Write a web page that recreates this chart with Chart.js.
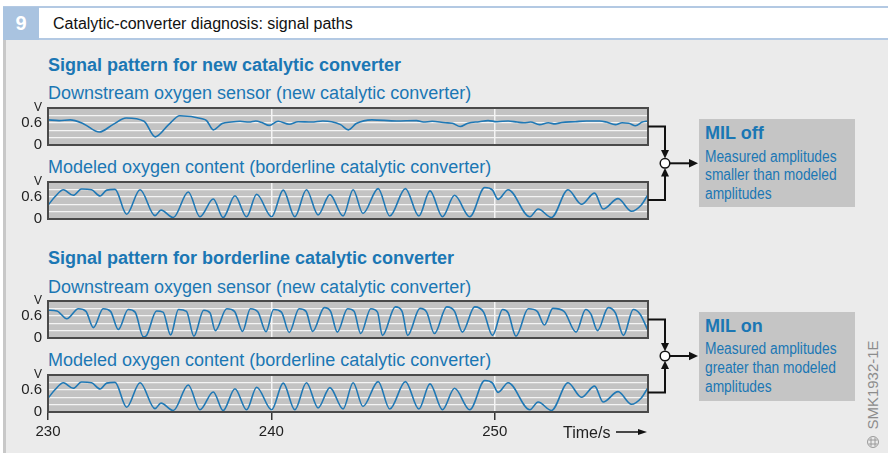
<!DOCTYPE html>
<html>
<head>
<meta charset="utf-8">
<script src="https://cdn.jsdelivr.net/npm/chart.js@4.4.1/dist/chart.umd.min.js"></script>
<style>
  body { margin: 0; width: 888px; height: 453px; position: relative; overflow: hidden; background: #fff;
         font-family: "Liberation Sans", Arial, sans-serif; }
  .abs { position: absolute; }
  .head { color: #1b77b4; font-weight: bold; font-size: 18px; line-height: 20px; white-space: nowrap; }
  .sub { color: #1b77b4; font-size: 18px; line-height: 20px; white-space: nowrap; }
  .box { background: #c5c5c5; }
  .mil { color: #1b77b4; font-weight: bold; font-size: 18px; line-height: 20px; white-space: nowrap; }
  .note { color: #1b77b4; font-size: 16px; line-height: 18px; white-space: nowrap;
          transform: scaleX(0.86); transform-origin: 0 0; }
</style>
</head>
<body>

<!-- header -->
<div class="abs" style="left:3px;top:6px;width:885px;height:30px;background:#fff;border-top:2px solid #b3c9e3;border-bottom:2px solid #b3c9e3"></div>
<div class="abs" style="left:3px;top:7px;width:36px;height:33px;background:#a9c3e0;color:#fff;font-weight:bold;font-size:20px;line-height:33px;text-align:center">9</div>
<div class="abs" style="left:53px;top:14px;font-size:16px;line-height:20px;color:#111">Catalytic-converter diagnosis: signal paths</div>

<!-- body panel -->
<div class="abs" style="left:3px;top:40px;width:885px;height:413px;background:#ebebeb;border-left:3px solid #c8c8c8;box-sizing:border-box"></div>

<div class="abs head" style="left:48px;top:55px">Signal pattern for new catalytic converter</div>
<div class="abs sub" style="left:48px;top:83px">Downstream oxygen sensor (new catalytic converter)</div>
<div class="abs sub" style="left:48px;top:157px">Modeled oxygen content (borderline catalytic converter)</div>
<div class="abs head" style="left:48px;top:248px">Signal pattern for borderline catalytic converter</div>
<div class="abs sub" style="left:48px;top:277px">Downstream oxygen sensor (new catalytic converter)</div>
<div class="abs sub" style="left:48px;top:350px">Modeled oxygen content (borderline catalytic converter)</div>

<div class="abs" style="left:0;top:98px;width:660px;height:57px"><canvas id="c1"></canvas></div>
<div class="abs" style="left:0;top:172px;width:660px;height:57px"><canvas id="c2"></canvas></div>
<div class="abs" style="left:0;top:291px;width:660px;height:57px"><canvas id="c3"></canvas></div>
<div class="abs" style="left:0;top:365px;width:660px;height:77px"><canvas id="c4"></canvas></div>

<div class="abs" style="left:563px;top:423px;font-size:16px;line-height:20px;color:#222">Time/s</div>

<!-- result boxes -->
<div class="abs box" style="left:699px;top:119px;width:156px;height:88px"></div>
<div class="abs mil" style="left:705px;top:123px">MIL off</div>
<div class="abs note" style="left:705px;top:148px">Measured amplitudes</div>
<div class="abs note" style="left:705px;top:166px">smaller than modeled</div>
<div class="abs note" style="left:705px;top:185px">amplitudes</div>

<div class="abs box" style="left:699px;top:312px;width:156px;height:89px"></div>
<div class="abs mil" style="left:705px;top:316px">MIL on</div>
<div class="abs note" style="left:705px;top:340px">Measured amplitudes</div>
<div class="abs note" style="left:705px;top:359px">greater than modeled</div>
<div class="abs note" style="left:705px;top:378px">amplitudes</div>

<div class="abs" style="left:823px;top:376px;width:100px;text-align:center;transform:rotate(-90deg);font-size:15px;line-height:18px;color:#8c8c8c;white-space:nowrap">SMK1932-1E</div>

<svg class="abs" style="left:0;top:0" width="888" height="453">
  <g stroke="#111" stroke-width="2" fill="none">
    <path d="M648 126.5 H665 V152"/>
    <path d="M648 200 H665 V174"/>
    <path d="M670 163.3 H690"/>
    <path d="M648 319.5 H665 V345"/>
    <path d="M648 392.5 H665 V367"/>
    <path d="M670 356 H690"/>
    <path d="M616 432 H640" stroke-width="1.5"/>
  </g>
  <g fill="#111">
    <polygon points="661,150 669,150 665,158.5"/>
    <polygon points="661,176.5 669,176.5 665,168"/>
    <polygon points="689,159 689,167.6 698,163.3"/>
    <polygon points="661,343 669,343 665,351.2"/>
    <polygon points="661,369 669,369 665,360.8"/>
    <polygon points="689,351.7 689,360.3 698,356"/>
    <polygon points="638,429 638,435 647,432"/>
  </g>
  <circle cx="665" cy="163.3" r="4.8" fill="#fff" stroke="#111" stroke-width="1.5"/>
  <circle cx="665" cy="356" r="4.8" fill="#fff" stroke="#111" stroke-width="1.5"/>
  <g stroke="#9a9a9a" stroke-width="1" fill="none">
    <circle cx="873" cy="442" r="5.5"/>
    <path d="M868.5 440 H877.5 M868.5 444 H877.5 M871 437.5 V446.5 M875 437.5 V446.5"/>
  </g>
</svg>

<script>
// time axis (s) and tick labels
const timeMin = 230;
const timeMax = 256.86;
const timeTicks = [230, 240, 250];
const voltTicks = [0, 0.2, 0.4, 0.6, 0.8, 1];
const voltLabels = { 0: "0", 0.6: "0.6", 1: "V" };

// downstream sensor, new catalytic converter
const newSensorTime = [230.0, 230.5, 231.0, 231.6, 232.3, 232.9, 233.5, 234.3, 234.8, 235.4, 235.9, 236.9, 237.1, 237.4,
  237.8, 238.2, 238.6, 239.0, 239.3, 239.6, 239.9, 240.3, 240.8, 241.2, 241.8, 242.3, 242.7, 243.1, 243.45, 243.8,
  244.5, 245.6, 246.5, 246.8, 247.2, 247.8, 248.1, 248.45, 248.8, 249.3, 249.7, 250.1, 250.6, 251.0, 251.3, 251.6,
  252.0, 252.4, 252.7, 253.0, 253.6, 254.1, 254.7, 255.0, 255.4, 255.7, 256.0, 256.3, 256.6, 256.86];
const newSensorVolt = [0.68, 0.66, 0.68, 0.57, 0.35, 0.55, 0.73, 0.64, 0.22, 0.55, 0.79, 0.71, 0.66, 0.41,
  0.58, 0.62, 0.64, 0.62, 0.65, 0.60, 0.53, 0.64, 0.56, 0.63, 0.62, 0.65, 0.63, 0.55, 0.41, 0.58,
  0.68, 0.65, 0.66, 0.62, 0.64, 0.60, 0.59, 0.50, 0.59, 0.63, 0.66, 0.63, 0.65, 0.62, 0.60, 0.62,
  0.55, 0.60, 0.57, 0.61, 0.63, 0.65, 0.65, 0.62, 0.55, 0.60, 0.59, 0.52, 0.62, 0.65];

// modeled oxygen content, borderline catalytic converter (same trace in both panels)
const modelTime = [230.0, 230.31, 230.69, 231.13, 231.5, 231.95, 232.33, 232.63, 233.0, 233.52, 234.12, 234.79, 235.06,
  235.61, 236.28, 236.8, 237.4, 237.84, 238.37, 238.89, 239.34, 240.01, 240.53, 241.05, 241.57, 242.09, 242.62,
  243.21, 243.66, 244.1, 244.78, 245.3, 246.0, 246.6, 247.1, 247.66, 248.2, 248.88, 249.55, 249.9, 250.15, 250.6,
  251.57, 251.94, 252.54, 253.28, 253.88, 254.47, 254.85, 255.52, 256.12, 256.56, 256.86];
const modelVolt = [0.37, 0.60, 0.79, 0.64, 0.81, 0.79, 0.62, 0.78, 0.80, 0.13, 0.79, 0.09, 0.24,
  0.04, 0.73, 0.06, 0.54, 0.04, 0.63, 0.06, 0.67, 0.06, 0.78, 0.06, 0.79, 0.11, 0.66,
  0.08, 0.79, 0.15, 0.82, 0.08, 0.82, 0.08, 0.76, 0.06, 0.64, 0.06, 0.85, 0.78, 0.53, 0.79,
  0.06, 0.27, 0.04, 0.79, 0.40, 0.70, 0.27, 0.55, 0.21, 0.38, 0.66];

// downstream sensor, borderline catalytic converter
const borderSensorTime = [230.0, 230.4, 230.84, 231.36, 231.7, 232.03, 232.47, 232.8, 233.15, 233.59, 233.9, 234.27, 234.4,
  234.86, 235.15, 235.49, 235.84, 236.2, 236.53, 236.97, 237.25, 237.49, 238.0, 238.35, 238.71, 239.06, 239.4,
  239.76, 240.1, 240.45, 240.8, 241.24, 241.55, 241.85, 242.37, 242.65, 242.95, 243.41, 243.7, 244.0, 244.45,
  244.75, 244.97, 245.55, 245.85, 246.1, 246.65, 246.95, 247.3, 247.85, 248.2, 248.55, 249.1, 249.5, 249.9,
  250.35, 250.6, 250.95, 251.5, 251.9, 252.22, 252.6, 253.1, 253.64, 254.07, 254.3, 254.6, 255.08, 255.4,
  255.76, 256.2, 256.5, 256.86];
const borderSensorVolt = [0.75, 0.73, 0.52, 0.79, 0.72, 0.28, 0.79, 0.72, 0.23, 0.77, 0.70, 0.03, 0.06,
  0.73, 0.70, 0.08, 0.77, 0.72, 0.05, 0.75, 0.68, 0.20, 0.79, 0.72, 0.18, 0.79, 0.70,
  0.17, 0.77, 0.70, 0.15, 0.79, 0.72, 0.18, 0.82, 0.72, 0.16, 0.79, 0.72, 0.12, 0.79,
  0.70, 0.07, 0.84, 0.72, 0.07, 0.80, 0.70, 0.12, 0.84, 0.72, 0.16, 0.84, 0.70, 0.07,
  0.77, 0.68, 0.05, 0.79, 0.72, 0.35, 0.80, 0.72, 0.16, 0.77, 0.65, 0.20, 0.82, 0.68,
  0.07, 0.77, 0.65, 0.20];

const lineColor = "#1f78b5";
const clear = "rgba(0,0,0,0)";

const framePlugin = {
  id: "frame",
  beforeDraw(chart) {
    const { ctx, chartArea: a } = chart;
    ctx.save();
    ctx.fillStyle = "#c3c3c3";
    ctx.fillRect(a.left, a.top, a.width, a.height);
    ctx.restore();
  },
  afterDraw(chart) {
    const { ctx, chartArea: a } = chart;
    ctx.save();
    ctx.strokeStyle = "#4a4a4a";
    ctx.lineWidth = 2;
    ctx.strokeRect(a.left, a.top, a.width, a.height);
    ctx.restore();
  }
};

function makeChart(id, times, volts, showTime) {
  const points = times.map((t, i) => ({ x: t, y: volts[i] }));
  return new Chart(document.getElementById(id), {
    type: "line",
    data: {
      datasets: [{
        data: points,
        borderColor: lineColor,
        borderWidth: 1.6,
        pointRadius: 0,
        fill: false,
        cubicInterpolationMode: "monotone"
      }]
    },
    options: {
      responsive: true,
      maintainAspectRatio: false,
      animation: false,
      layout: { padding: { top: 10, right: 12, bottom: showTime ? 0 : 10, left: 0 } },
      plugins: { legend: { display: false }, tooltip: { enabled: false } },
      scales: {
        x: {
          type: "linear",
          min: timeMin,
          max: timeMax,
          afterBuildTicks: (scale) => { scale.ticks = timeTicks.map(v => ({ value: v })); },
          afterFit: (scale) => {
            scale.height = showTime ? 30 : 0;
            scale.paddingLeft = 0; scale.paddingRight = 0;
          },
          border: { display: false },
          grid: {
            color: (c) => (c.tick && c.tick.value === timeMin ? clear : "#f4f4f4"),
            lineWidth: 1.5,
            drawTicks: showTime,
            tickLength: 8,
            tickColor: "#333"
          },
          ticks: {
            display: showTime,
            autoSkip: false,
            maxRotation: 0,
            padding: 3,
            color: "#222",
            font: { family: "Liberation Sans, Arial, sans-serif", size: 15 },
            callback: (v) => String(v)
          }
        },
        y: {
          min: 0,
          max: 1,
          afterBuildTicks: (scale) => { scale.ticks = voltTicks.map(v => ({ value: v })); },
          afterFit: (scale) => {
            scale.width = 48;
            scale.paddingTop = 0; scale.paddingBottom = 0;
          },
          border: { display: false },
          grid: {
            color: (c) => (c.tick && (c.tick.value === 0 || c.tick.value === 1) ? clear : "#f4f4f4"),
            lineWidth: 1.3,
            drawTicks: false
          },
          ticks: {
            autoSkip: false,
            padding: 6,
            color: "#222",
            font: (c) => ({ family: "Liberation Sans, Arial, sans-serif", size: c.tick && c.tick.value === 1 ? 12 : 15 }),
            callback: (v) => voltLabels[v] || ""
          }
        }
      }
    },
    plugins: [framePlugin]
  });
}

makeChart("c1", newSensorTime, newSensorVolt, false);
makeChart("c2", modelTime, modelVolt, false);
makeChart("c3", borderSensorTime, borderSensorVolt, false);
makeChart("c4", modelTime, modelVolt, true);
</script>
</body>
</html>
